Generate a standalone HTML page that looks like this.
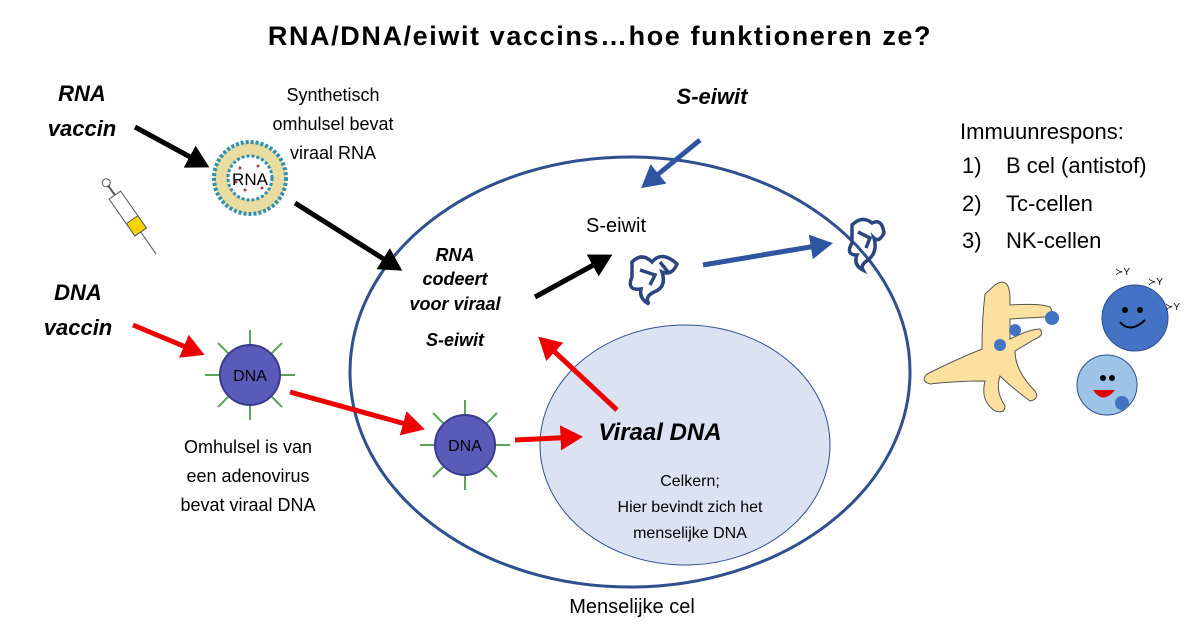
<!DOCTYPE html>
<html><head><meta charset="utf-8"><style>
body{margin:0;background:#fff}
svg{display:block;font-family:"Liberation Sans",sans-serif}
</style></head><body>
<svg width="1200" height="640" viewBox="0 0 1200 640">
<defs>
<marker id="ak" markerWidth="6" markerHeight="6" refX="3.5" refY="3" orient="auto" markerUnits="strokeWidth"><path d="M0,0.5 L4.5,3 L0,5.5z" fill="#000"/></marker>
<marker id="ar" markerWidth="6" markerHeight="6" refX="3.5" refY="3" orient="auto" markerUnits="strokeWidth"><path d="M0,0.5 L4.5,3 L0,5.5z" fill="#e00"/></marker>
<marker id="ab" markerWidth="6" markerHeight="6" refX="3.5" refY="3" orient="auto" markerUnits="strokeWidth"><path d="M0,0.5 L4.5,3 L0,5.5z" fill="#2f55a0"/></marker>
</defs>
<text x="600" y="45" font-size="27" font-weight="bold" text-anchor="middle" letter-spacing="1.6">RNA/DNA/eiwit vaccins…hoe funktioneren ze?</text>
<ellipse cx="630" cy="372" rx="280" ry="215" fill="none" stroke="#2f4f8f" stroke-width="3"/>
<ellipse cx="685" cy="445" rx="145" ry="120" fill="#dbe3f3" stroke="#2f4f8f" stroke-width="1"/>
<g font-size="22" font-weight="bold" font-style="italic" text-anchor="middle">
<text x="82" y="101">RNA</text><text x="82" y="136">vaccin</text>
<text x="78" y="300">DNA</text><text x="78" y="335">vaccin</text>
<text x="712" y="104">S-eiwit</text>
<text x="660" y="440" font-size="24">Viraal DNA</text>
</g>
<g font-size="18" font-weight="bold" font-style="italic" text-anchor="middle">
<text x="455" y="261">RNA</text><text x="455" y="285">codeert</text><text x="455" y="310">voor viraal</text><text x="455" y="346">S-eiwit</text>
</g>
<g font-size="18" text-anchor="middle">
<text x="333" y="101">Synthetisch</text><text x="333" y="130">omhulsel bevat</text><text x="333" y="159">viraal RNA</text>
<text x="248" y="453">Omhulsel is van</text><text x="248" y="482">een adenovirus</text><text x="248" y="511">bevat viraal DNA</text>
<text x="616" y="232" font-size="20">S-eiwit</text>
<text x="632" y="613" font-size="20">Menselijke cel</text>
</g>
<g font-size="16" text-anchor="middle">
<text x="690" y="486">Celkern;</text><text x="690" y="512">Hier bevindt zich het</text><text x="690" y="538">menselijke DNA</text>
</g>
<g font-size="22">
<text x="960" y="139">Immuunrespons:</text>
<text x="962" y="173">1)</text><text x="1006" y="173">B cel (antistof)</text>
<text x="962" y="211">2)</text><text x="1006" y="211">Tc-cellen</text>
<text x="962" y="248">3)</text><text x="1006" y="248">NK-cellen</text>
</g>
<g stroke-width="5" fill="none">
<line x1="135" y1="127" x2="205" y2="165" stroke="#000" marker-end="url(#ak)"/>
<line x1="295" y1="203" x2="398" y2="268" stroke="#000" marker-end="url(#ak)"/>
<line x1="535" y1="297" x2="608" y2="257" stroke="#000" marker-end="url(#ak)"/>
<line x1="133" y1="325" x2="200" y2="353" stroke="#e00" marker-end="url(#ar)"/>
<line x1="290" y1="392" x2="420" y2="428" stroke="#e00" marker-end="url(#ar)"/>
<line x1="515" y1="440" x2="578" y2="437" stroke="#e00" marker-end="url(#ar)"/>
<line x1="617" y1="410" x2="542" y2="340" stroke="#e00" marker-end="url(#ar)"/>
<line x1="700" y1="140" x2="645" y2="185" stroke="#2f55a0" marker-end="url(#ab)"/>
<line x1="703" y1="265" x2="828" y2="244" stroke="#2f55a0" marker-end="url(#ab)"/>
</g>
<g transform="rotate(-35 130 215)">
<rect x="122" y="190" width="14" height="45" fill="#fff" stroke="#555"/>
<rect x="122" y="220" width="14" height="15" fill="#f5d300" stroke="#555"/>
<line x1="129" y1="235" x2="129" y2="262" stroke="#555"/>
<line x1="129" y1="190" x2="129" y2="178" stroke="#555" stroke-width="2"/>
<circle cx="129" cy="175" r="4" fill="none" stroke="#555"/>
</g>
<circle cx="250" cy="178" r="36" fill="#e8dca0" stroke="#2e8fb0" stroke-width="4" stroke-dasharray="3 2"/>
<circle cx="250" cy="178" r="22" fill="#fff" stroke="#2e8fb0" stroke-width="3" stroke-dasharray="3 2"/>
<g fill="#a04040"><circle cx="240" cy="168" r="1.5"/><circle cx="258" cy="166" r="1.5"/><circle cx="245" cy="190" r="1.5"/><circle cx="262" cy="188" r="1.5"/><circle cx="236" cy="182" r="1.5"/></g>
<text x="250" y="185" font-size="17" text-anchor="middle">RNA</text>
<g stroke="#5aa55a" stroke-width="2">
<g transform="translate(250,375)">
<line x1="-45" y1="0" x2="45" y2="0"/><line x1="0" y1="-45" x2="0" y2="45"/><line x1="-32" y1="-32" x2="32" y2="32"/><line x1="-32" y1="32" x2="32" y2="-32"/>
<circle r="30" fill="#5a5ab8" stroke="#3a3a90"/>
<text y="6" font-size="16" text-anchor="middle" stroke="none" fill="#000">DNA</text></g>
<g transform="translate(465,445)">
<line x1="-45" y1="0" x2="45" y2="0"/><line x1="0" y1="-45" x2="0" y2="45"/><line x1="-32" y1="-32" x2="32" y2="32"/><line x1="-32" y1="32" x2="32" y2="-32"/>
<circle r="30" fill="#5a5ab8" stroke="#3a3a90"/>
<text y="6" font-size="16" text-anchor="middle" stroke="none" fill="#000">DNA</text></g>
</g>
<g fill="none" stroke="#2a4580" stroke-width="3.5">
<path d="M632,262 q10,-10 20,0 q10,-12 25,2 q-5,12 -15,8 q5,15 -8,20 q-10,5 -5,12 q-10,-5 -8,-15 q-15,2 -9,-12 z M640,270 l15,5 l-5,10 M660,262 l8,10"/>
<path d="M852,225 q10,-10 20,-2 q10,-5 12,10 q-5,10 -10,5 q4,14 -6,22 q-8,5 -5,10 q-10,-5 -6,-15 q-12,0 -5,-12 z M858,232 l12,6 l-4,10"/>
</g>
<path d="M995,285 q15,-10 15,15 l0,5 q30,-2 40,2 q5,8 -5,10 l-35,2 l0,20 q20,-10 30,-10 q5,6 -5,10 l-20,12 q0,20 20,40 q5,8 -5,10 q-20,-15 -30,-25 q-5,15 5,30 q0,8 -10,5 q-15,-10 -10,-30 q-30,0 -55,3 q-10,-3 -3,-10 q30,-15 55,-25 q0,-30 3,-55z" fill="#fbe0a0" stroke="#555" stroke-width="1"/>
<circle cx="1135" cy="318" r="33" fill="#4472c4" stroke="#2f4f8f"/>
<circle cx="1107" cy="385" r="30" fill="#9dc3e6" stroke="#2f4f8f"/>
<path d="M1093,390 q10,15 22,0 z" fill="#d00"/>
<path d="M1120,322 q10,12 25,-2" fill="none" stroke="#000" stroke-width="2"/>
<circle cx="1125" cy="310" r="3"/><circle cx="1140" cy="310" r="3"/>
<circle cx="1103" cy="378" r="3"/><circle cx="1112" cy="378" r="3"/>
<circle cx="1052" cy="318" r="7" fill="#4472c4"/><circle cx="1000" cy="345" r="6" fill="#4472c4"/><circle cx="1015" cy="330" r="6" fill="#4472c4"/><circle cx="1122" cy="403" r="7" fill="#4472c4"/>
<g font-size="10" fill="#000"><text x="1115" y="275">≻Y</text><text x="1148" y="285">≻Y</text><text x="1165" y="310">≻Y</text></g>
</svg>
</body></html>
